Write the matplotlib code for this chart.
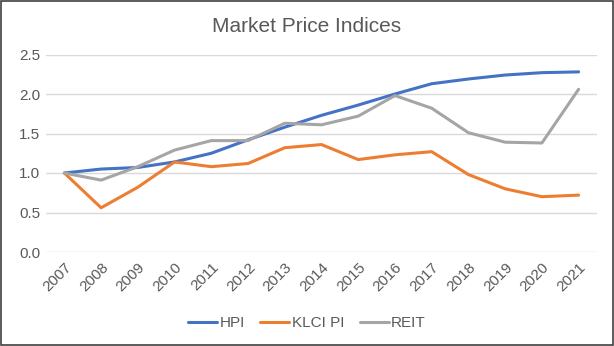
import matplotlib.pyplot as plt
from matplotlib.patches import Rectangle

years = [str(y) for y in range(2007, 2022)]
hpi = [1.00, 1.05, 1.07, 1.14, 1.25, 1.42, 1.58, 1.73, 1.86, 2.00, 2.13, 2.19, 2.24, 2.27, 2.28]
klci = [1.00, 0.56, 0.82, 1.14, 1.08, 1.12, 1.32, 1.36, 1.17, 1.23, 1.27, 0.98, 0.80, 0.70, 0.72]
reit = [1.00, 0.91, 1.08, 1.29, 1.41, 1.41, 1.63, 1.61, 1.72, 1.98, 1.82, 1.51, 1.39, 1.38, 2.06]
yticks = [0.0, 0.5, 1.0, 1.5, 2.0, 2.5]

plt.rcParams["font.family"] = ["Liberation Sans", "DejaVu Sans"]
text_color = "#595959"

fig = plt.figure(figsize=(6.14, 3.46), dpi=100)
ax = fig.add_axes([46 / 614, 1 - 252 / 346, (597 - 46) / 614, (252 - 54.5) / 346])

x = range(len(years))
ax.plot(x, hpi, color="#4472C4", lw=2.2, label="HPI", solid_capstyle="round")
ax.plot(x, klci, color="#ED7D31", lw=2.2, label="KLCI PI", solid_capstyle="round")
ax.plot(x, reit, color="#A5A5A5", lw=2.2, label="REIT", solid_capstyle="round")

ax.set_xlim(-0.5, len(years) - 0.5)
ax.set_ylim(0, 2.5)
ax.set_yticks(yticks)
ax.set_yticklabels([f"{v:.1f}" for v in yticks])
ax.set_xticks(list(x))
ax.set_xticklabels(years, rotation=45, ha="right", rotation_mode="anchor")
ax.tick_params(colors=text_color, labelsize=11, length=0, pad=4)
ax.tick_params(axis="x", pad=6)
ax.grid(axis="y", color="#D9D9D9", lw=1)
ax.set_axisbelow(True)
for s in ax.spines.values():
    s.set_visible(False)

fig.text(0.5, 1 - 27 / 346, "Market Price Indices", ha="center", va="center",
         fontsize=15, color=text_color)

leg = fig.legend(loc="center", bbox_to_anchor=(0.5, 1 - 323 / 346), ncol=3, frameon=False,
                 fontsize=11, handlelength=1.9, handletextpad=0.15, columnspacing=1.0)
for t in leg.get_texts():
    t.set_color(text_color)

fig.patches.append(Rectangle((0.001, 0.002), 0.997, 0.995, transform=fig.transFigure,
                             fill=False, edgecolor="#404040", lw=1.2))

fig.savefig("out.png", dpi=100)
